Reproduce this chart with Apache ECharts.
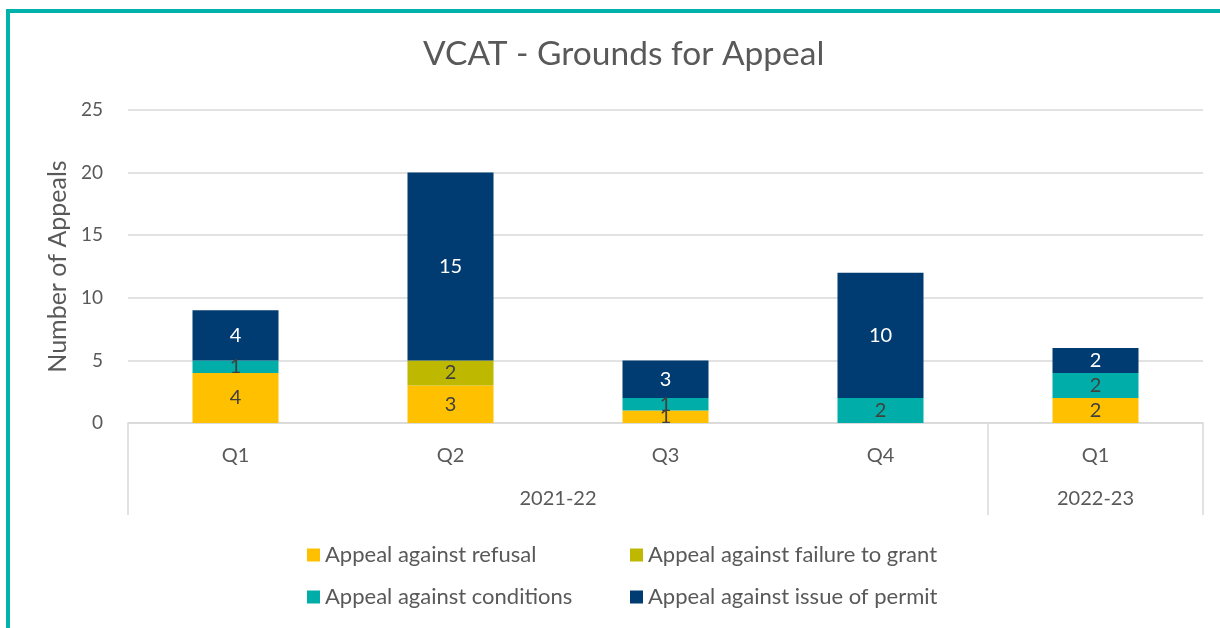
<!DOCTYPE html>
<html>
<head>
<meta charset="utf-8">
<script src="https://cdn.jsdelivr.net/npm/echarts@6/dist/echarts.min.js"></script>
<style>
  html, body { margin: 0; padding: 0; width: 1220px; height: 628px; overflow: hidden; background: #fff; }
  .frame { position: absolute; left: 6px; top: 9px; width: 1300px; height: 700px; border: 4px solid #00b2a9; box-sizing: border-box; }
  #main { position: absolute; left: 0; top: 0; width: 1220px; height: 628px; }
</style>
</head>
<body>
<div class="frame"></div>
<div id="main"></div>
<script>
// quarters and the financial year each one belongs to
const quarters = ["Q1", "Q2", "Q3", "Q4", "Q1"];
const yearGroups = ["2021-22", "2022-23"];
const yearSpan = [4, 1];

const refusal = [4, 3, 1, 0, 2];
const failureToGrant = [0, 2, 0, 0, 0];
const conditions = [1, 0, 1, 2, 2];
const issueOfPermit = [4, 15, 3, 10, 2];

const yTicks = [0, 5, 10, 15, 20, 25];

const font = "Lato, 'Open Sans', sans-serif";
const grey = "#595959";

// group boundaries + centres on the 0..n scale of the 2nd axis
let bounds = [0];
let centres = [];
yearSpan.forEach((n) => {
  const start = bounds[bounds.length - 1];
  centres.push(start + n / 2);
  bounds.push(start + n);
});

const hideZero = (p) => (p.value ? p.value : "");

const makeSeries = (name, data, color, labelColor) => ({
  name: name,
  type: "bar",
  stack: "total",
  data: data,
  barWidth: "40%",
  itemStyle: { color: color },
  label: {
    show: true,
    position: "inside",
    formatter: hideZero,
    color: labelColor,
    fontSize: 20,
    fontFamily: font
  }
});

const legendBase = {
  orient: "vertical",
  top: 539,
  itemGap: 20,
  itemWidth: 13,
  itemHeight: 13,
  icon: "rect",
  textStyle: { color: grey, fontSize: 22, fontFamily: font }
};

const myChart = echarts.init(document.getElementById("main"));
const option = {
  animation: false,
  title: {
    text: "VCAT - Grounds for Appeal",
    left: 418,
    top: 32,
    textStyle: { color: grey, fontSize: 33.5, fontWeight: "normal", fontFamily: font }
  },
  grid: { left: 128, right: 17, top: 110, bottom: 205 },
  legend: [
    Object.assign({}, legendBase, {
      data: ["Appeal against refusal", "Appeal against conditions"],
      left: 302
    }),
    Object.assign({}, legendBase, {
      data: ["Appeal against failure to grant", "Appeal against issue of permit"],
      left: 625
    })
  ],
  xAxis: [
    {
      type: "category",
      data: quarters,
      axisLine: { show: true, lineStyle: { color: "#d9d9d9", width: 1.5 } },
      axisTick: { show: false },
      axisLabel: { color: grey, fontSize: 20, fontFamily: font, margin: 23 }
    },
    {
      type: "value",
      position: "bottom",
      min: 0,
      max: bounds[bounds.length - 1],
      axisLine: { show: false },
      splitLine: { show: false },
      axisTick: {
        show: true,
        customValues: bounds,
        length: 92,
        lineStyle: { color: "#d9d9d9", width: 1.5 }
      },
      axisLabel: {
        customValues: centres,
        formatter: (v) => yearGroups[centres.indexOf(v)],
        color: grey,
        fontSize: 20,
        fontFamily: font,
        margin: 66
      }
    }
  ],
  yAxis: {
    type: "value",
    min: yTicks[0],
    max: yTicks[yTicks.length - 1],
    interval: 5,
    name: "Number of Appeals",
    nameLocation: "middle",
    nameGap: 55,
    nameTextStyle: { color: grey, fontSize: 25, fontFamily: font },
    axisLine: { show: false },
    axisTick: { show: false },
    axisLabel: { color: grey, fontSize: 19, fontFamily: font, margin: 25 },
    splitLine: { lineStyle: { color: "#d9d9d9", width: 1.5 } }
  },
  series: [
    makeSeries("Appeal against refusal", refusal, "#ffc000", "#404040"),
    makeSeries("Appeal against failure to grant", failureToGrant, "#bfb800", "#404040"),
    makeSeries("Appeal against conditions", conditions, "#00ada8", "#404040"),
    makeSeries("Appeal against issue of permit", issueOfPermit, "#003b71", "#ffffff")
  ]
};
myChart.setOption(option);
</script>
</body>
</html>
